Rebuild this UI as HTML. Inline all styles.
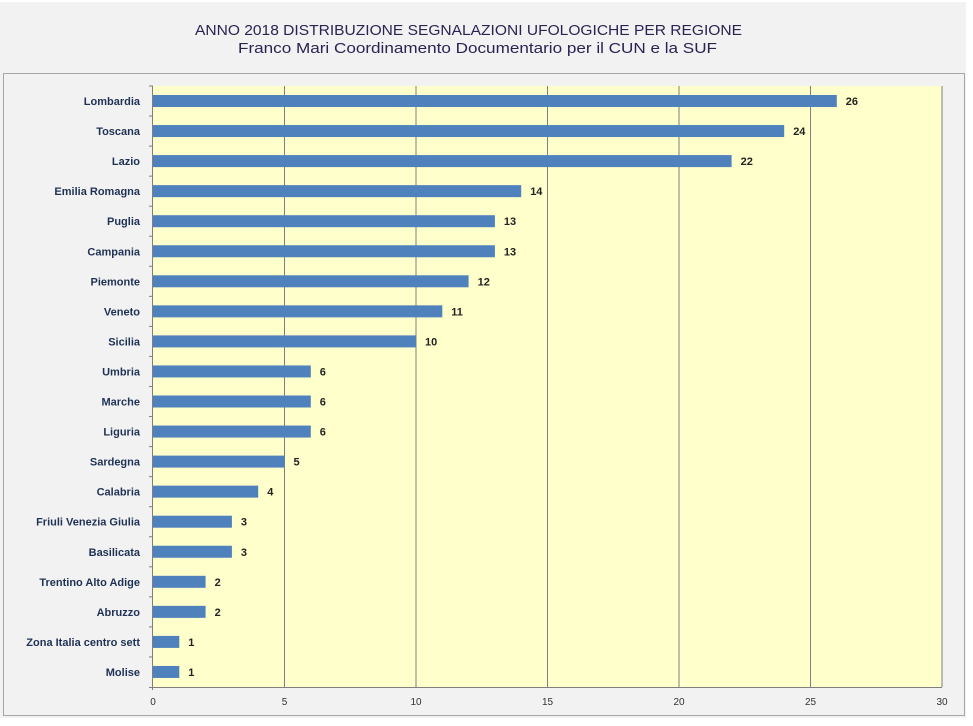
<!DOCTYPE html>
<html><head><style>
body{margin:0;width:973px;height:721px;background:#fff;overflow:hidden;font-family:"Liberation Sans",sans-serif}
</style></head><body>
<svg width="973" height="721" xmlns="http://www.w3.org/2000/svg">
<rect x="0" y="2" width="966" height="716" fill="#f2f2f2"/>
<rect x="3.5" y="73.5" width="961" height="642" fill="#f2f2f2" stroke="#a6a6a6" stroke-width="1"/>
<text x="195" y="35" textLength="547" lengthAdjust="spacingAndGlyphs" font-size="15" fill="#2b2352">ANNO 2018  DISTRIBUZIONE SEGNALAZIONI UFOLOGICHE PER REGIONE</text>
<text x="238" y="53" textLength="479" lengthAdjust="spacingAndGlyphs" font-size="15" fill="#2b2352">Franco Mari Coordinamento Documentario per il CUN e la SUF</text>
<rect x="153" y="86" width="789" height="601" fill="#ffffcc"/>
<g stroke="#7f7f7f" stroke-width="1">
<line x1="284.5" y1="86" x2="284.5" y2="687"/>
<line x1="416" y1="86" x2="416" y2="687"/>
<line x1="547.5" y1="86" x2="547.5" y2="687"/>
<line x1="679" y1="86" x2="679" y2="687"/>
<line x1="810.5" y1="86" x2="810.5" y2="687"/>
<line x1="942" y1="86" x2="942" y2="687"/>
<line x1="152.5" y1="86" x2="152.5" y2="690"/>
<line x1="149" y1="687.5" x2="942" y2="687.5"/>
</g>
<g font-size="10" fill="#333" text-anchor="middle">
<text x="153" y="705">0</text><text x="284.5" y="705">5</text><text x="416" y="705">10</text><text x="547.5" y="705">15</text><text x="679" y="705">20</text><text x="810.5" y="705">25</text><text x="942" y="705">30</text>
</g>
<g id="bars" font-size="11" font-weight="bold"></g>
</svg>
<script>
var d=[["Lombardia",26],["Toscana",24],["Lazio",22],["Emilia Romagna",14],["Puglia",13],["Campania",13],["Piemonte",12],["Veneto",11],["Sicilia",10],["Umbria",6],["Marche",6],["Liguria",6],["Sardegna",5],["Calabria",4],["Friuli Venezia Giulia",3],["Basilicata",3],["Trentino Alto Adige",2],["Abruzzo",2],["Zona Italia centro sett",1],["Molise",1]];
var g=document.getElementById('bars'),s='';
d.forEach(function(r,i){var y=95+i*30.05,w=r[1]*26.3;
s+='<rect x="153" y="'+y+'" width="'+w+'" height="12" fill="#4f81bd"/>';
s+='<text x="140" y="'+(y+10)+'" text-anchor="end" fill="#1f3255">'+r[0]+'</text>';
s+='<text x="'+(153+w+9)+'" y="'+(y+10)+'" fill="#222">'+r[1]+'</text>';
s+='<line x1="149" x2="153" y1="'+(y-9)+'" y2="'+(y-9)+'" stroke="#7f7f7f"/>';});
g.innerHTML=s;
</script>
</body></html>
